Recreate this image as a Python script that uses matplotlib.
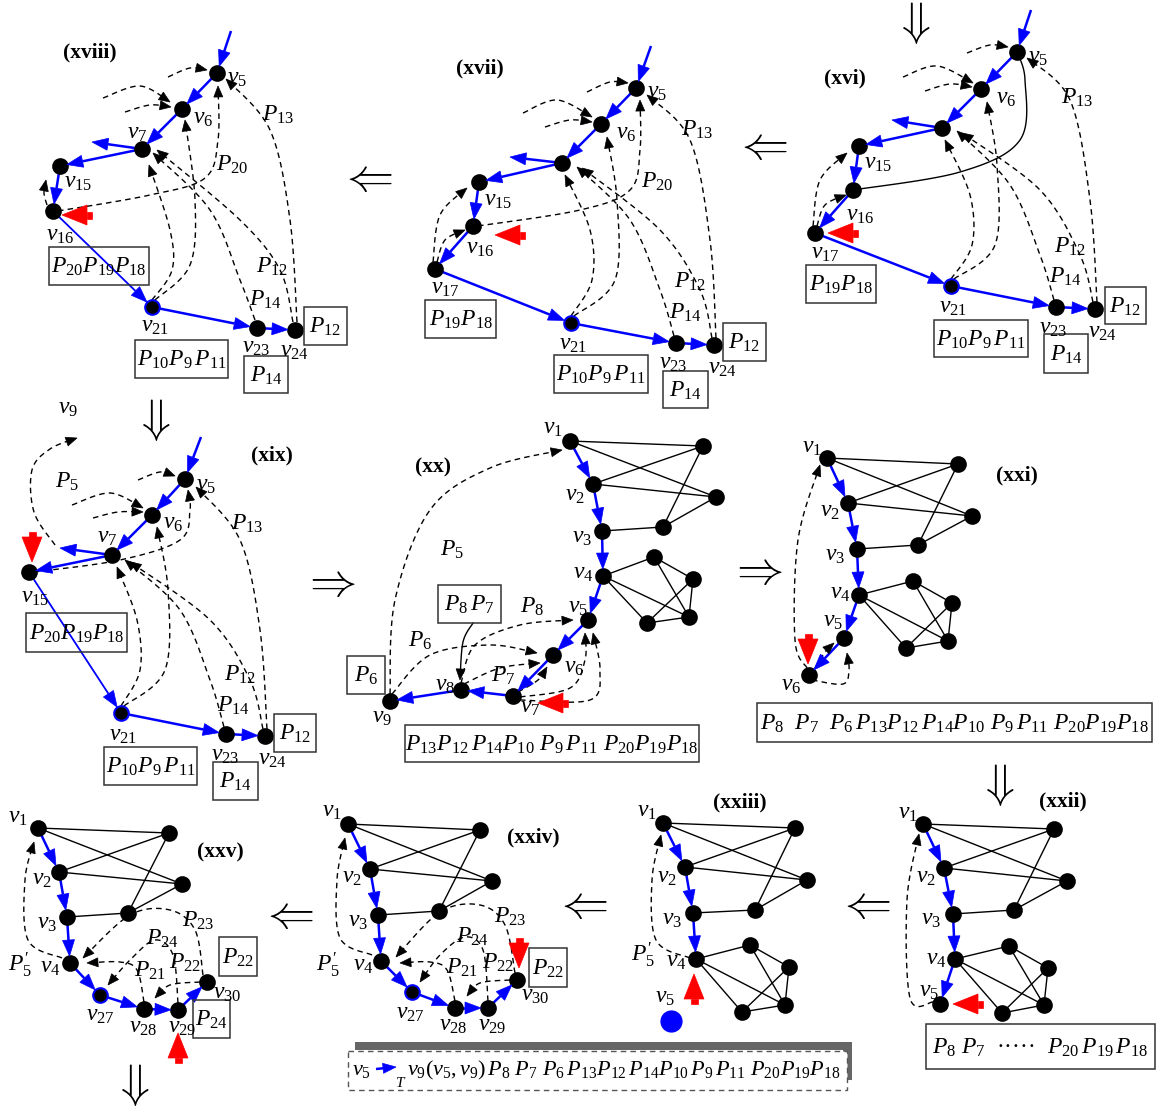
import numpy as np
import matplotlib
matplotlib.use("Agg")
import matplotlib.pyplot as plt
from matplotlib.patches import Polygon, Rectangle

plt.rcParams.update({
    "font.family": "Liberation Serif",
    "mathtext.fontset": "custom",
    "mathtext.rm": "Liberation Serif",
    "mathtext.it": "Liberation Serif:italic",
    "mathtext.bf": "Liberation Serif:bold",
})

# ---------------- данные: положения вершин (в пикселях картинки) ----------------
P18_NODES = dict(v5=(217, 73), v6=(182, 109), v7=(142, 149), v15=(60, 166), v16=(53, 211),
                 v21=(152, 307), v23=(257, 328), v24=(295, 330))
P17_NODES = dict(v5=(636, 88), v6=(601, 124), v7=(562, 163), v15=(479, 182), v16=(473, 226),
                 v17=(435, 269), v21=(571, 323), v23=(676, 343), v24=(714, 345))
P16_NODES = dict(v5=(1017, 52), v6=(981, 89), v7=(942, 128), v15=(859, 146), v16=(853, 190),
                 v17=(815, 233), v21=(951, 286), v23=(1056, 307), v24=(1095, 309))
P19_NODES = dict(v5=(185, 479), v6=(152, 515), v7=(112, 555), v15=(29, 572),
                 v21=(121, 713), v23=(226, 734), v24=(265, 736))
P20_NODES = dict(v1=(570, 441), v2=(593, 484), v3=(602, 531), v4=(603, 576), v5=(588, 620),
                 v6=(553, 655), v7=(513, 696), v8=(461, 690), v9=(390, 701),
                 a=(703, 446), b=(716, 497), c=(663, 527), d=(654, 557), e=(693, 579),
                 f=(689, 617), g=(647, 623))
P21_NODES = dict(v1=(827, 458), v2=(848, 503), v3=(857, 549), v4=(859, 595), v5=(844, 638),
                 v6=(809, 675), a=(958, 464), b=(972, 516), c=(918, 545), d=(913, 581),
                 e=(952, 603), f=(948, 641), g=(906, 648))
P22_NODES = dict(v1=(923, 824), v2=(944, 868), v3=(953, 914), v4=(955, 959), v5=(940, 1004),
                 a=(1054, 829), b=(1067, 881), c=(1014, 910), d=(1009, 946), e=(1048, 968),
                 f=(1044, 1005), g=(1002, 1013))
P23_NODES = dict(v1=(663, 823), v2=(685, 867), v3=(693, 913), v4=(696, 959),
                 a=(795, 828), b=(807, 880), c=(755, 910), d=(750, 945), e=(789, 967),
                 f=(785, 1005), g=(742, 1012))
P24_NODES = dict(v1=(348, 824), v2=(370, 869), v3=(378, 915), v4=(381, 961), v27=(412, 992),
                 v28=(455, 1008), v29=(488, 1008), v30=(517, 980),
                 a=(480, 830), b=(492, 881), c=(439, 911))
P25_NODES = dict(v1=(38, 828), v2=(59, 872), v3=(67, 917), v4=(70, 963), v27=(100, 995),
                 v28=(144, 1009), v29=(178, 1010), v30=(207, 982),
                 a=(169, 833), b=(182, 884), c=(128, 913))

# рёбра исходного графа (рисуются, если обе вершины есть в панели)
GRAPH_EDGES = [("v1", "a"), ("v1", "b"), ("v2", "a"), ("v2", "b"), ("v3", "c"), ("c", "a"),
               ("c", "b"), ("v4", "d"), ("v4", "f"), ("v4", "g"), ("d", "e"), ("d", "f"),
               ("e", "f"), ("e", "g"), ("g", "f")]

UPPER_BLUE = [("v5", "v6"), ("v6", "v7"), ("v21", "v23"), ("v23", "v24")]

PANELS = [
    dict(  # (xviii)
        title=(90, 52, "(xviii)"), nodes=P18_NODES, ring=["v21"],
        blue=UPPER_BLUE + [((231, 31), "v5"), ("v7", (92, 142)), ("v7", "v15"), ("v15", "v16"),
                           ("v16", "v21", 1.3)],
        dashed=[[(103, 98), (140, 86), (170, 102)], [(125, 112), (150, 105), (171, 107)],
                [(168, 77), (190, 68), (207, 70)], [(47, 205), (44, 193), (46, 180)],
                [(58, 211), (150, 195), (205, 178), (218, 140), (218, 86)],
                [(152, 300), (172, 270), (170, 230), (149, 165)],
                [(155, 300), (190, 265), (195, 200), (185, 120)],
                [(255, 320), (240, 280), (210, 210), (153, 153)],
                [(293, 322), (280, 270), (240, 220), (157, 150)],
                [(297, 322), (290, 220), (270, 130), (226, 79)]],
        labels=[(237, 78, "$v_5$"), (203, 118, "$v_6$"), (137, 133, "$v_7$"), (78, 182, "$v_{15}$"),
                (60, 235, "$v_{16}$"), (155, 326, "$v_{21}$"), (256, 347, "$v_{23}$"),
                (294, 351, "$v_{24}$"), (278, 115, "$P_{13}$"), (232, 165, "$P_{20}$"),
                (272, 267, "$P_{12}$"), (265, 300, "$P_{14}$")],
        boxes=[(49, 247, 149, 285, "$P_{20}P_{19}P_{18}$"), (135, 340, 228, 378, r"$P_{10}P_9\,P_{11}$"),
               (304, 307, 347, 345, "$P_{12}$"), (244, 356, 288, 393, "$P_{14}$")],
        red=((62, 215), "left")),
    dict(  # (xvii)
        title=(480, 68, "(xvii)"), nodes=P17_NODES, ring=["v21"],
        blue=UPPER_BLUE + [((651, 46), "v5"), ("v7", (510, 157)), ("v7", "v15"), ("v15", "v16"),
                           ("v16", "v17"), ("v17", "v21")],
        dashed=[[(523, 113), (557, 100), (592, 117)], [(545, 127), (570, 120), (592, 122)],
                [(587, 92), (610, 82), (628, 83)], [(433, 262), (440, 215), (467, 188)],
                [(437, 262), (445, 240), (465, 230)],
                [(478, 226), (580, 210), (630, 190), (640, 150), (640, 100)],
                [(571, 316), (592, 280), (590, 230), (565, 175)],
                [(574, 316), (615, 280), (617, 200), (607, 137)],
                [(674, 336), (660, 290), (630, 220), (577, 167)],
                [(712, 338), (700, 290), (660, 230), (582, 168)],
                [(716, 338), (710, 240), (690, 140), (647, 95)]],
        labels=[(657, 92, "$v_5$"), (626, 133, "$v_6$"), (498, 200, "$v_{15}$"), (480, 248, "$v_{16}$"),
                (445, 288, "$v_{17}$"), (573, 344, "$v_{21}$"), (673, 363, "$v_{23}$"),
                (722, 368, "$v_{24}$"), (697, 130, "$P_{13}$"), (657, 182, "$P_{20}$"),
                (690, 282, "$P_{12}$"), (685, 313, "$P_{14}$")],
        boxes=[(425, 300, 496, 338, "$P_{19}P_{18}$"), (554, 355, 648, 393, r"$P_{10}P_9\,P_{11}$"),
               (723, 323, 766, 361, "$P_{12}$"), (663, 371, 708, 408, "$P_{14}$")],
        red=((495, 235), "left")),
    dict(  # (xvi)
        title=(845, 78, "(xvi)"), nodes=P16_NODES, ring=["v21"],
        blue=UPPER_BLUE + [((1031, 10), "v5"), ("v7", (892, 120)), ("v7", "v15"), ("v15", "v16"),
                           ("v16", "v17"), ("v17", "v21")],
        solid=[([(853, 190), (960, 172), (1020, 140), (1025, 80), (1017, 52)], False)],
        dashed=[[(903, 77), (937, 66), (973, 83)], [(925, 91), (950, 84), (972, 87)],
                [(967, 53), (990, 45), (1008, 47)], [(813, 226), (820, 180), (847, 153)],
                [(817, 226), (825, 205), (846, 195)],
                [(951, 279), (972, 245), (970, 195), (945, 140)],
                [(954, 279), (995, 245), (997, 165), (987, 102)],
                [(1054, 300), (1040, 255), (1010, 185), (957, 131)],
                [(1093, 302), (1080, 255), (1040, 190), (962, 133)],
                [(1097, 302), (1090, 200), (1070, 100), (1027, 58)]],
        labels=[(1038, 57, "$v_5$"), (1006, 98, "$v_6$"), (878, 163, "$v_{15}$"), (860, 215, "$v_{16}$"),
                (825, 253, "$v_{17}$"), (953, 307, "$v_{21}$"), (1053, 328, "$v_{23}$"),
                (1102, 332, "$v_{24}$"), (1077, 98, "$P_{13}$"), (1070, 247, "$P_{12}$"),
                (1065, 277, "$P_{14}$")],
        boxes=[(806, 265, 876, 303, "$P_{19}P_{18}$"), (934, 320, 1028, 357, r"$P_{10}P_9\,P_{11}$"),
               (1105, 287, 1146, 324, "$P_{12}$"), (1044, 334, 1088, 373, "$P_{14}$")],
        red=((828, 233), "left")),
    dict(  # (xix)
        title=(272, 455, "(xix)"), nodes=P19_NODES, ring=["v21"],
        blue=UPPER_BLUE + [((201, 437), "v5"), ("v7", (60, 548)), ("v7", "v15"), ("v15", "v21", 1.3)],
        dashed=[[(55, 545), (34, 512), (32, 470), (50, 449), (77, 438)],
                [(72, 505), (110, 493), (143, 508)], [(93, 518), (118, 512), (143, 512)],
                [(138, 480), (160, 472), (175, 476)],
                [(34, 572), (120, 560), (180, 540), (190, 510), (188, 490)],
                [(121, 706), (140, 670), (137, 620), (117, 567)],
                [(124, 706), (165, 670), (168, 590), (157, 527)],
                [(224, 727), (210, 680), (180, 610), (125, 560)],
                [(263, 729), (250, 680), (210, 620), (130, 562)],
                [(267, 729), (260, 630), (240, 540), (196, 487)]],
        labels=[(68, 408, "$v_9$"), (67, 482, "$P_5$"), (206, 485, "$v_5$"), (173, 524, "$v_6$"),
                (107, 537, "$v_7$"), (35, 597, "$v_{15}$"), (123, 736, "$v_{21}$"),
                (225, 756, "$v_{23}$"), (272, 759, "$v_{24}$"), (247, 524, "$P_{13}$"),
                (240, 675, "$P_{12}$"), (233, 706, "$P_{14}$")],
        boxes=[(26, 613, 127, 652, "$P_{20}P_{19}P_{18}$"), (104, 747, 197, 785, r"$P_{10}P_9\,P_{11}$"),
               (274, 714, 316, 752, "$P_{12}$"), (213, 762, 258, 800, "$P_{14}$")],
        red=((32, 562), "down")),
    dict(  # (xx)
        title=(433, 467, "(xx)"), nodes=P20_NODES,
        blue=[("v1", "v2"), ("v2", "v3"), ("v3", "v4"), ("v4", "v5"), ("v5", "v6"), ("v6", "v7"),
              ("v7", "v8"), ("v8", "v9")],
        solid=[([(473, 623), (463, 642), (460, 680)], True)],
        dashed=[[(390, 694), (395, 600), (430, 510), (490, 468), (562, 450)],
                [(392, 694), (430, 655), (490, 645), (537, 653)],
                [(461, 683), (475, 645), (520, 625), (573, 620)],
                [(464, 684), (500, 668), (540, 663)], [(518, 692), (538, 680), (547, 667)],
                [(520, 697), (570, 688), (585, 660), (585, 633)],
                [(520, 700), (590, 700), (600, 670), (593, 633)]],
        labels=[(553, 428, "$v_1$"), (575, 495, "$v_2$"), (582, 538, "$v_3$"), (583, 573, "$v_4$"),
                (578, 607, "$v_5$"), (574, 667, "$v_6$"), (530, 708, "$v_7$"), (503, 676, "$P_7$"),
                (445, 686, "$v_8$"), (382, 718, "$v_9$"), (452, 550, "$P_5$"), (532, 607, "$P_8$"),
                (420, 641, "$P_6$")],
        boxes=[(438, 585, 501, 623, r"$P_8\,P_7$"), (347, 656, 385, 694, "$P_6$"),
               (405, 725, 699, 762, r"$P_{13}P_{12}\,P_{14}P_{10}\ P_9\,P_{11}\ P_{20}P_{19}P_{18}$")],
        red=((538, 703), "left")),
    dict(  # (xxi)
        title=(1017, 475, "(xxi)"), nodes=P21_NODES,
        blue=[("v1", "v2"), ("v2", "v3"), ("v3", "v4"), ("v4", "v5"), ("v5", "v6")],
        dashed=[[(807, 668), (795, 640), (798, 540), (820, 465)],
                [(815, 668), (825, 652), (834, 643)],
                [(812, 680), (843, 684), (849, 670), (847, 653)]],
        labels=[(812, 447, "$v_1$"), (830, 512, "$v_2$"), (835, 556, "$v_3$"), (840, 594, "$v_4$"),
                (833, 622, "$v_5$"), (791, 686, "$v_6$")],
        boxes=[(757, 703, 1152, 742,
                r"$P_8\ \ P_7\ \ P_6\,P_{13}P_{12}\,P_{14}P_{10}\ P_9\,P_{11}\ P_{20}P_{19}P_{18}$")],
        red=((808, 664), "down")),
    dict(  # (xxii)
        title=(1063, 801, "(xxii)"), nodes=P22_NODES,
        blue=[("v1", "v2"), ("v2", "v3"), ("v3", "v4"), ("v4", "v5")],
        dashed=[[(933, 1002), (910, 998), (907, 900), (919, 834)]],
        labels=[(908, 813, "$v_1$"), (926, 878, "$v_2$"), (931, 920, "$v_3$"), (936, 959, "$v_4$"),
                (929, 991, "$v_5$")],
        boxes=[(926, 1024, 1155, 1069, r"$P_8\ P_7$  ·····  $P_{20}\,P_{19}\,P_{18}$")],
        red=((953, 1004), "left")),
    dict(  # (xxiii)
        title=(740, 802, "(xxiii)"), nodes=P23_NODES,
        blue=[("v1", "v2"), ("v2", "v3"), ("v3", "v4")],
        dashed=[[(690, 958), (656, 940), (652, 880), (661, 835)]],
        labels=[(647, 812, "$v_1$"), (667, 878, "$v_2$"), (672, 920, "$v_3$"), (676, 962, "$v_4$"),
                (643, 955, "$P_5'$"), (665, 998, "$v_5$")],
        red=((694, 974), "up")),
    dict(  # (xxiv)
        title=(533, 837, "(xxiv)"), nodes=P24_NODES, ring=["v27"],
        blue=[("v1", "v2"), ("v2", "v3"), ("v3", "v4"), ("v4", "v27"), ("v27", "v28"),
              ("v28", "v29"), ("v29", "v30")],
        dashed=[[(372, 955), (340, 938), (337, 880), (345, 838)],
                [(515, 973), (505, 925), (480, 905), (440, 912), (396, 957)],
                [(455, 1001), (447, 970), (430, 962), (400, 963)],
                [(488, 1001), (483, 950), (465, 937), (440, 955), (420, 982)],
                [(510, 980), (480, 983), (467, 996)]],
        labels=[(332, 812, "$v_1$"), (352, 878, "$v_2$"), (358, 921, "$v_3$"), (363, 966, "$v_4$"),
                (328, 965, "$P_5'$"), (410, 1013, "$v_{27}$"), (453, 1026, "$v_{28}$"),
                (492, 1026, "$v_{29}$"), (535, 996, "$v_{30}$"), (510, 917, "$P_{23}$"),
                (472, 937, "$P_{24}$"), (462, 968, "$P_{21}$"), (498, 963, "$P_{22}$")],
        boxes=[(529, 948, 567, 987, "$P_{22}$")],
        red=((519, 968), "down")),
    dict(  # (xxv)
        title=(220, 852, "(xxv)"), nodes=P25_NODES, ring=["v27"],
        blue=[("v1", "v2"), ("v2", "v3"), ("v3", "v4"), ("v4", "v27"), ("v27", "v28"),
              ("v28", "v29"), ("v29", "v30")],
        dashed=[[(62, 958), (28, 940), (25, 880), (34, 842)],
                [(203, 975), (195, 930), (170, 910), (130, 915), (83, 958)],
                [(144, 1002), (137, 970), (120, 962), (87, 963)],
                [(178, 1003), (173, 955), (155, 940), (130, 960), (108, 985)],
                [(200, 982), (170, 985), (155, 998)]],
        labels=[(18, 817, "$v_1$"), (42, 880, "$v_2$"), (47, 923, "$v_3$"), (50, 968, "$v_4$"),
                (20, 965, "$P_5'$"), (100, 1016, "$v_{27}$"), (143, 1028, "$v_{28}$"),
                (182, 1028, "$v_{29}$"), (227, 993, "$v_{30}$"), (198, 921, "$P_{23}$"),
                (162, 939, "$P_{24}$"), (150, 971, "$P_{21}$"), (185, 963, "$P_{22}$")],
        boxes=[(219, 937, 257, 976, "$P_{22}$"), (193, 1000, 230, 1038, "$P_{24}$")],
        red=((178, 1033), "up")),
]

# двойные стрелки между панелями
DOUBLE_ARROWS = [(367, 180, r"$\Leftarrow$"), (762, 148, r"$\Leftarrow$"), (288, 917, r"$\Leftarrow$"),
                 (582, 907, r"$\Leftarrow$"), (865, 907, r"$\Leftarrow$"), (330, 585, r"$\Rightarrow$"),
                 (757, 573, r"$\Rightarrow$"), (913, 23, r"$\Downarrow$"), (153, 420, r"$\Downarrow$"),
                 (997, 785, r"$\Downarrow$"), (132, 1085, r"$\Downarrow$")]

BOTTOM_TEXT = r"$v_9(v_5,v_9)\,P_8\ P_7\ P_6\,P_{13}P_{12}\,P_{14}P_{10}\,P_9\,P_{11}\ P_{20}P_{19}P_{18}$"

# ---------------- рисование ----------------
fig = plt.figure(figsize=(11.56, 11.06), dpi=100)
ax = fig.add_axes([0, 0, 1, 1])
ax.set_xlim(0, 1156)
ax.set_ylim(1106, 0)
ax.axis("off")


def spline(pts, n=24):
    # кривая Катмулла-Рома через опорные точки
    P = np.array(pts, float)
    P = np.vstack([P[0], P, P[-1]])
    out = []
    t = np.linspace(0, 1, n)[:, None]
    for i in range(1, len(P) - 2):
        p0, p1, p2, p3 = P[i - 1], P[i], P[i + 1], P[i + 2]
        out.append(0.5 * (2 * p1 + (-p0 + p2) * t + (2 * p0 - 5 * p1 + 4 * p2 - p3) * t ** 2
                          + (-p0 + 3 * p1 - 3 * p2 + p3) * t ** 3))
    return np.vstack(out)


def head(tip, d, L, w, color, z=5):
    d = np.asarray(d, float)
    d = d / np.hypot(*d)
    n = np.array([-d[1], d[0]])
    base = tip - d * L
    ax.add_patch(Polygon([tip, base + n * w, base - n * w], closed=True, fc=color, ec=color,
                         lw=0.5, zorder=z))
    return base


def blue_arrow(p, q, lw=1.8, r=7, L=16, w=6, z=3):
    p = np.array(p, float)
    q = np.array(q, float)
    d = (q - p) / np.hypot(*(q - p))
    tip = q - d * r
    base = head(tip, d, L, w, "blue", z=z + 2)
    ax.plot([p[0], base[0]], [p[1], base[1]], color="blue", lw=lw, zorder=z,
            solid_capstyle="butt")


def curve(pts, arrow=True, ls=(0, (4, 3)), lw=1.0):
    c = spline(pts)
    if arrow:
        tip = c[-1]
        head(tip, tip - c[-6], 11, 4.5, "black")
        dist = np.hypot(*(c - tip).T)
        c = c[dist > 8]
    ax.plot(c[:, 0], c[:, 1], color="black", ls=ls, lw=lw, zorder=2)


def red_arrow(tip, side):
    d = {"left": (-1, 0), "right": (1, 0), "up": (0, -1), "down": (0, 1)}[side]
    d = np.array(d, float)
    tip = np.array(tip, float)
    base = head(tip, d, 25, 10, "red")
    n = np.array([-d[1], d[0]])
    stem = base - d * 5
    ax.add_patch(Polygon([base + n * 3.5, stem + n * 3.5, stem - n * 3.5, base - n * 3.5],
                         closed=True, fc="red", ec="red", lw=0.5, zorder=5))


def box(x0, y0, x1, y1, s):
    ax.add_patch(Rectangle((x0, y0), x1 - x0, y1 - y0, fill=False, ec="#333333", lw=1.1, zorder=6))
    ax.text((x0 + x1) / 2, (y0 + y1) / 2 + 1, s, ha="center", va="center", fontsize=17, zorder=7)


for pan in PANELS:
    N = pan["nodes"]
    pos = lambda k: N[k] if isinstance(k, str) else k
    # рёбра графа
    for a, b in GRAPH_EDGES:
        if a in N and b in N:
            ax.plot([N[a][0], N[b][0]], [N[a][1], N[b][1]], color="black", lw=1.0, zorder=1)
    for pts, arr in pan.get("solid", []):
        curve(pts, arrow=arr, ls="-", lw=1.0)
    for pts in pan["dashed"]:
        curve(pts)
    for e in pan["blue"]:
        lw = e[2] if len(e) > 2 else 1.8
        blue_arrow(pos(e[0]), pos(e[1]), lw=lw, r=7 if isinstance(e[1], str) else 0)
    for k, (x, y) in N.items():
        ec = "blue" if k in pan.get("ring", []) else "black"
        ax.plot(x, y, "o", ms=10.5, color="black", mec=ec, mew=1.5, zorder=4)
    for x, y, s in pan["labels"]:
        ax.text(x, y, s, ha="center", va="center", fontsize=17, zorder=7)
    for b in pan.get("boxes", []):
        box(*b)
    red_arrow(*pan["red"])
    tx, ty, ts = pan["title"]
    ax.text(tx, ty, ts, ha="center", va="center", fontsize=15.5, fontweight="bold", zorder=7)

# синяя вершина v5 в (xxiii)
ax.plot(671, 1021, "o", ms=15, color="blue", zorder=4)

for x, y, s in DOUBLE_ARROWS:
    ax.text(x, y, s, ha="center", va="center", fontsize=34, zorder=7)

# нижняя строка с пунктирной рамкой и серой тенью
ax.add_patch(Rectangle((355, 1042), 497, 8, fc="#666666", ec="none", zorder=5))
ax.add_patch(Rectangle((843, 1042), 9, 38, fc="#666666", ec="none", zorder=5))
ax.add_patch(Rectangle((348, 1051), 499, 39, fc="white", ec="#555555", lw=1.0,
                       ls=(0, (4, 3)), zorder=6))
ax.text(352, 1071, "$v_5$", ha="left", va="center", fontsize=16, zorder=7)
blue_arrow((376, 1069), (396, 1067), lw=1.8, r=0, L=13, w=5, z=8)
ax.text(395, 1083, "$T$", ha="left", va="center", fontsize=11, zorder=7)
ax.text(407, 1070, BOTTOM_TEXT, ha="left", va="center", fontsize=16, zorder=7)

fig.savefig("out.png", dpi=100)
